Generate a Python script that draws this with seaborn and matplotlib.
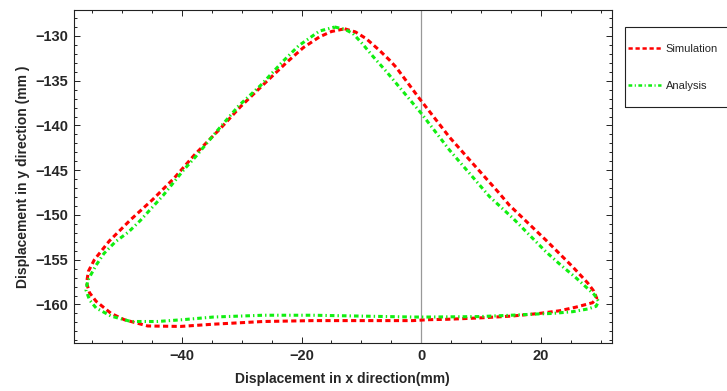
import matplotlib
matplotlib.use("Agg")
import matplotlib.pyplot as plt
from matplotlib.patches import Rectangle
from matplotlib.ticker import MultipleLocator
import numpy as np
import pandas as pd
import seaborn as sns

# ---- data ----
sim_x = [-12.8, -11.0, -9.2, -7.0, -5.3, -4.2, -0.3, 4.7, 8.8, 12.8, 14.7, 20.8, 25.3, 27.8, 28.8, 29.3,
         28.6, 27.5, 25.8, 23.1, 19.7, 15.0, 9.7, 4.5, 1.1, -1.4, -9.7, -18.1, -26.4, -34.7, -40.2, -45.7,
         -49.6, -51.8, -54.3, -55.4, -55.9, -55.6, -54.6, -52.1, -48.5, -44.9, -41.3, -37.9, -33.5, -30.2,
         -25.7, -22.4, -19.7, -17.0, -15.0, -12.8]
sim_y = [-129.2, -129.55, -130.3, -131.6, -132.7, -133.5, -137.0, -141.3, -144.4, -147.4, -148.9, -152.8,
         -155.8, -157.6, -158.5, -159.3, -159.8, -160.0, -160.3, -160.7, -161.0, -161.3, -161.5, -161.65,
         -161.7, -161.8, -161.8, -161.8, -161.9, -162.2, -162.45, -162.4, -161.7, -161.0, -159.65, -158.7,
         -157.6, -156.3, -155.0, -152.9, -150.5, -148.3, -145.9, -143.3, -140.3, -137.9, -135.0, -132.9,
         -131.3, -130.1, -129.5, -129.2]

ana_x = [-14.45, -12.8, -11.4, -9.8, -8.05, -5.8, 0.0, 4.7, 11.4, 15.3, 20.8, 23.3, 25.8, 27.6, 28.9, 29.6,
         29.2, 27.8, 25.3, 21.9, 19.7, 15.0, 9.7, 1.1, -1.4, -9.7, -18.1, -26.4, -34.7, -39.9, -44.1, -48.5,
         -51.8, -54.3, -55.4, -56.0, -55.7, -54.3, -53.0, -51.1, -48.9, -46.9, -43.1, -39.6, -37.7, -34.1,
         -30.5, -26.8, -23.2, -20.5, -17.0, -14.45]
ana_y = [-129.0, -129.25, -129.73, -130.9, -132.3, -134.0, -138.65, -142.74, -147.95, -150.36, -154.1,
         -155.6, -157.0, -158.1, -158.9, -159.65, -160.2, -160.5, -160.8, -161.0, -161.05, -161.2, -161.35,
         -161.4, -161.4, -161.3, -161.2, -161.2, -161.4, -161.7, -161.9, -161.9, -161.3, -160.4, -159.5,
         -158.4, -157.3, -155.6, -154.3, -153.0, -151.9, -150.6, -147.8, -144.9, -143.5, -140.6, -137.8,
         -135.5, -132.9, -131.1, -129.45, -129.0]

series_names = ["Simulation", "Analysis"]
x_ticks = [-40, -20, 0, 20]
y_ticks = [-160, -155, -150, -145, -140, -135, -130]

sns.set_style("ticks")
plt.rcParams["font.family"] = ["Liberation Sans", "DejaVu Sans"]

fig = plt.figure(figsize=(7.27, 3.91), dpi=100)
ax = fig.add_axes([0.1018, 0.1228, 0.7396, 0.8516])

ax.axvline(0, color="#999999", lw=0.9, zorder=1)

df_sim = pd.DataFrame({"x": sim_x, "y": sim_y})
df_ana = pd.DataFrame({"x": ana_x, "y": ana_y})
sns.lineplot(data=df_sim, x="x", y="y", sort=False, estimator=None, ax=ax,
             color="#ff0000", lw=2.2, label=series_names[0], zorder=3)
sns.lineplot(data=df_ana, x="x", y="y", sort=False, estimator=None, ax=ax,
             color="#11ee11", lw=2.2, label=series_names[1], zorder=3)
lines = ax.get_lines()
lines[1].set_linestyle((0, (1.7, 1.1)))
lines[2].set_linestyle((0, (1.5, 1.0, 0.45, 1.0)))

ax.set_xlim(-58, 31.8)
ax.set_ylim(-164.3, -127.1)
ax.set_xticks(x_ticks)
ax.set_yticks(y_ticks)
ax.xaxis.set_minor_locator(MultipleLocator(5))
ax.yaxis.set_minor_locator(MultipleLocator(1))
ax.tick_params(which="both", direction="in", top=True, right=True, color="#222222", width=0.7)
ax.tick_params(which="major", length=4, pad=4, labelsize=10.5)
ax.tick_params(which="minor", length=2)
ax.set_xticklabels(["\u221240", "\u221220", "0", "20"], fontweight="bold")
ax.set_yticklabels(["\u2212" + str(abs(v)) for v in y_ticks], fontweight="bold")
for s in ax.spines.values():
    s.set_visible(True)
    s.set_linewidth(0.8)
    s.set_color("#222222")

ax.set_xlabel("Displacement in x direction(mm)", fontsize=10, fontweight="bold", labelpad=7)
ax.set_ylabel("Displacement in y direction (mm )", fontsize=10, fontweight="bold", labelpad=4)

# legend
ax.get_legend().remove()
fig.patches.append(Rectangle((625 / 727, 1 - 106.7 / 391), 0.2, 80 / 391, transform=fig.transFigure,
                             fill=False, edgecolor="#222222", lw=0.8))
leg = fig.legend(handles=lines[1:3], labels=series_names, loc="upper left",
                 bbox_to_anchor=(628 / 727, 1 - 43.5 / 391), bbox_transform=fig.transFigure,
                 frameon=False, fontsize=8, handlelength=3.0, handletextpad=0.4,
                 labelspacing=2.5, borderpad=0, borderaxespad=0)
for l in leg.get_lines():
    l.set_linewidth(1.8)

fig.savefig("out.png", dpi=100)
